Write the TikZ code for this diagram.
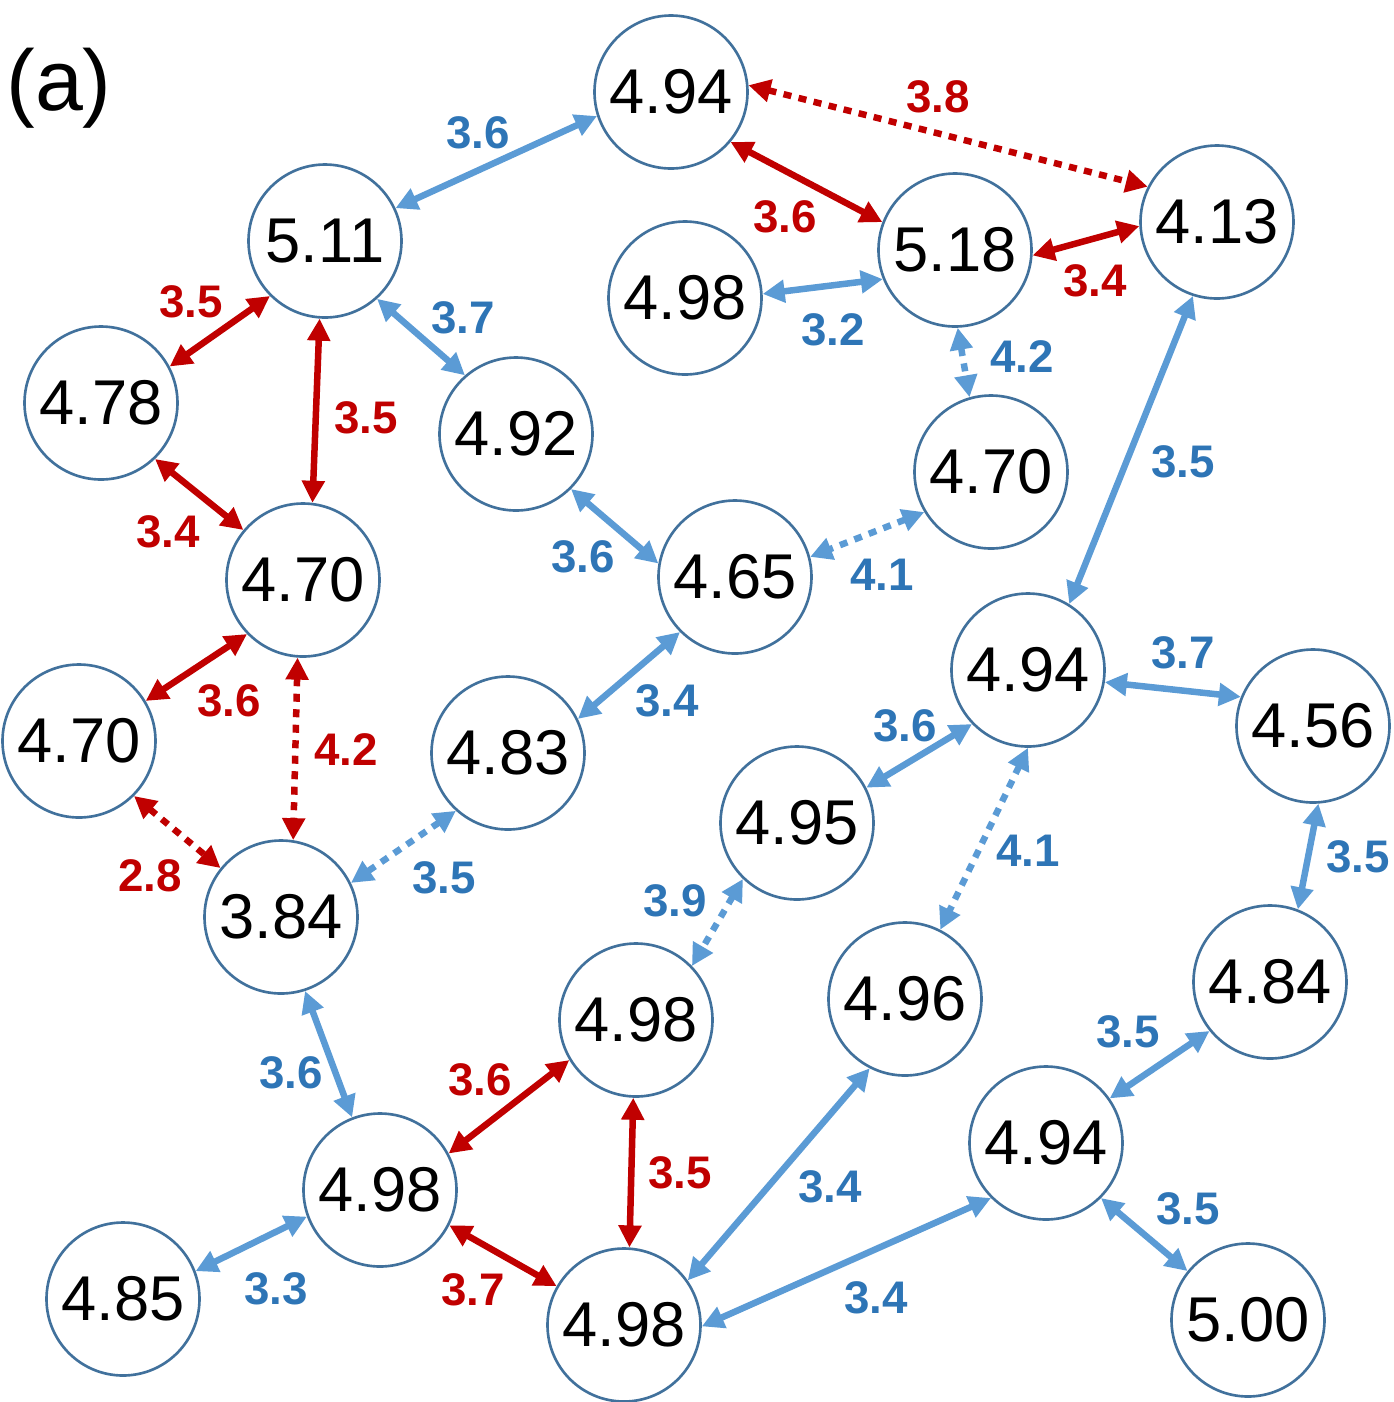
\documentclass[tikz,border=0pt]{standalone}
\usepackage{fontspec}
\setmainfont{Liberation Sans}
\usetikzlibrary{arrows.meta}
\definecolor{arrblue}{HTML}{5B9BD5}
\definecolor{labblue}{HTML}{2E75B6}
\definecolor{arrred}{HTML}{C00000}
\definecolor{ringblue}{HTML}{41719C}
\tikzset{
  val/.style={circle, draw=ringblue, line width=0.75pt, fill=white, minimum size=1.53cm, inner sep=0pt, font=\fontsize{18}{20}\selectfont},
  link/.style={line width=1.85pt, {Triangle[length=0.22cm,width=0.22cm]}-{Triangle[length=0.22cm,width=0.22cm]}},
  bl/.style={link, draw=arrblue},
  rd/.style={link, draw=arrred},
  dot/.style={dash pattern=on 0.08cm off 0.075cm},
  lb/.style={font=\bfseries\fontsize{13}{14}\selectfont, text=labblue, inner sep=0pt},
  lr/.style={font=\bfseries\fontsize{13}{14}\selectfont, text=arrred, inner sep=0pt}
}
\begin{document}
\begin{tikzpicture}
\useasboundingbox (0,0) rectangle (13.94,-14.02);
\node[font=\fontsize{24.5}{26}\selectfont, inner sep=0pt] (title) at (0.59,-0.88) {(a)};
% nodes
\node[val] (A) at (6.71,-0.92) {4.94};
\node[val] (B) at (3.25,-2.41) {5.11};
\node[val] (C) at (6.85,-2.98) {4.98};
\node[val] (D) at (9.55,-2.50) {5.18};
\node[val] (E) at (12.17,-2.22) {4.13};
\node[val] (F) at (1.01,-4.03) {4.78};
\node[val] (G) at (5.16,-4.34) {4.92};
\node[val] (H) at (9.91,-4.72) {4.70};
\node[val] (I) at (3.03,-5.80) {4.70};
\node[val] (J) at (7.35,-5.77) {4.65};
\node[val] (K) at (10.28,-6.70) {4.94};
\node[val] (L) at (13.13,-7.26) {4.56};
\node[val] (M) at (0.79,-7.41) {4.70};
\node[val] (N) at (5.08,-7.53) {4.83};
\node[val] (O) at (7.97,-8.23) {4.95};
\node[val] (P) at (2.81,-9.17) {3.84};
\node[val] (Q) at (9.05,-9.99) {4.96};
\node[val] (R) at (12.70,-9.82) {4.84};
\node[val] (S) at (6.36,-10.20) {4.98};
\node[val] (T) at (10.46,-11.43) {4.94};
\node[val] (U) at (3.80,-11.90) {4.98};
\node[val] (V) at (1.23,-12.99) {4.85};
\node[val] (W) at (6.24,-13.25) {4.98};
\node[val] (X) at (12.48,-13.20) {5.00};
% connectors
\draw[bl] (A.198) -- (B.25);
\draw[rd] (A.320) -- (D.159);
\draw[rd, dot] (A.5) -- (E.153);
\draw[rd] (D.356) -- (E.183);
\draw[bl] (C.3) -- (D.202);
\draw[rd] (B.225) -- (F.28);
\draw[rd] (B.266) -- (I.83);
\draw[bl] (B.312) -- (G.131);
\draw[rd] (F.314) -- (I.140);
\draw[bl] (G.315) -- (J.170);
\draw[bl, dot] (D.272) -- (H.106);
\draw[bl, dot] (H.211) -- (J.15);
\draw[bl] (E.252) -- (K.58);
\draw[rd] (I.224) -- (M.31);
\draw[rd, dot] (I.266) -- (P.81);
\draw[rd, dot] (M.315) -- (P.141);
\draw[bl] (J.225) -- (N.26);
\draw[bl, dot] (N.228) -- (P.26);
\draw[bl] (K.351) -- (L.158);
\draw[bl] (K.224) -- (O.27);
\draw[bl, dot] (K.270) -- (Q.63);
\draw[bl] (L.274) -- (R.69);
\draw[bl, dot] (O.226) -- (S.44);
\draw[bl] (P.288) -- (U.111);
\draw[rd] (U.28) -- (S.211);
\draw[rd] (S.268) -- (W.86);
\draw[rd] (U.333) -- (W.150);
\draw[bl] (U.200) -- (V.21);
\draw[bl] (W.35) -- (Q.243);
\draw[bl] (W.359) -- (T.225);
\draw[bl] (T.35) -- (R.219);
\draw[bl] (T.315) -- (X.141);
% labels
\node[lb] (l1) at (4.78,-1.33) {3.6};
\node[lr] (l2) at (9.38,-0.97) {3.8};
\node[lr] (l3) at (7.85,-2.17) {3.6};
\node[lr] (l4) at (10.95,-2.81) {3.4};
\node[lb] (l5) at (8.33,-3.30) {3.2};
\node[lr] (l6) at (1.91,-3.02) {3.5};
\node[lb] (l7) at (4.63,-3.18) {3.7};
\node[lr] (l8) at (3.66,-4.18) {3.5};
\node[lb] (l9) at (10.22,-3.57) {4.2};
\node[lb] (l10) at (11.83,-4.62) {3.5};
\node[lr] (l11) at (1.68,-5.32) {3.4};
\node[lb] (l12) at (5.83,-5.57) {3.6};
\node[lb] (l13) at (8.82,-5.75) {4.1};
\node[lr] (l14) at (2.29,-7.01) {3.6};
\node[lr] (l15) at (3.46,-7.50) {4.2};
\node[lb] (l16) at (6.67,-7.01) {3.4};
\node[lb] (l17) at (11.83,-6.53) {3.7};
\node[lb] (l18) at (9.05,-7.26) {3.6};
\node[lr] (l19) at (1.50,-8.76) {2.8};
\node[lb] (l20) at (4.44,-8.78) {3.5};
\node[lb] (l21) at (10.28,-8.51) {4.1};
\node[lb] (l22) at (13.58,-8.57) {3.5};
\node[lb] (l23) at (6.75,-9.01) {3.9};
\node[lb] (l24) at (2.91,-10.73) {3.6};
\node[lr] (l25) at (4.80,-10.80) {3.6};
\node[lr] (l26) at (6.80,-11.73) {3.5};
\node[lb] (l27) at (11.28,-10.32) {3.5};
\node[lb] (l28) at (8.30,-11.87) {3.4};
\node[lb] (l29) at (11.88,-12.09) {3.5};
\node[lb] (l30) at (2.76,-12.89) {3.3};
\node[lr] (l31) at (4.73,-12.90) {3.7};
\node[lb] (l32) at (8.76,-12.98) {3.4};
\end{tikzpicture}
\end{document}
